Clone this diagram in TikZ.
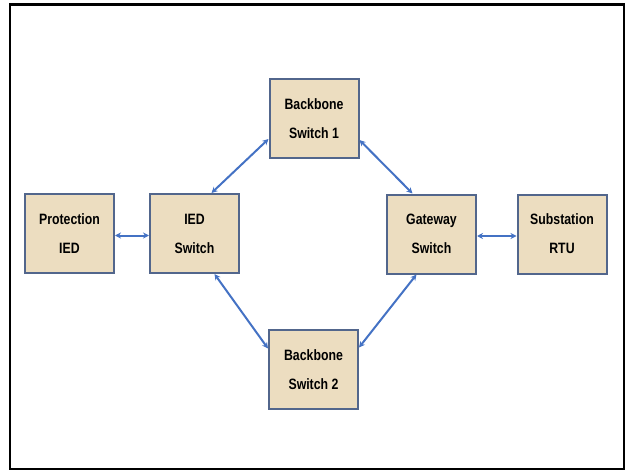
\documentclass[tikz,border=0pt]{standalone}
\usepackage{fontspec}
\newfontfamily\boxfont[FakeStretch=0.82]{Liberation Sans}
\usetikzlibrary{arrows.meta}
\definecolor{parchment}{RGB}{236,221,192}
\definecolor{boxedge}{RGB}{82,102,140}
\definecolor{linkblue}{RGB}{68,114,196}
\tikzset{
    devbox/.style={draw=boxedge, line width=2pt, fill=parchment,
        minimum width=89pt, minimum height=79pt, inner sep=0pt, align=center,
        font=\boxfont\bfseries\fontsize{15}{29}\selectfont},
    link/.style={linkblue, line width=2pt, {Stealth[length=6pt,width=6pt]}-{Stealth[length=6pt,width=6pt]}}
}
\begin{document}
\begin{tikzpicture}[x=1pt,y=1pt]
        \useasboundingbox (0,0) rectangle (626,472);
        \draw[line width=2.8pt] (10,467.5) rectangle (624,3);

        \node[devbox] (prot) at (69.5,238.5) {Protection\\IED};
        \node[devbox] (iedsw) at (194.5,238.5) {IED\\Switch};
        \node[devbox] (bb1) at (314,353) {Backbone\\Switch 1};
        \node[devbox] (gw) at (431.5,238) {Gateway\\Switch};
        \node[devbox] (rtu) at (562,238) {Substation\\RTU};
        \node[devbox] (bb2) at (313.5,102.5) {Backbone\\Switch 2};

        \draw[link] ([yshift=-2pt]prot.east) -- ([yshift=-2pt]iedsw.west);
        \draw[link] ([yshift=-2pt]gw.east) -- ([yshift=-2pt]rtu.west);
        \draw[link] ([xshift=17pt]iedsw.north) -- ([yshift=-20pt]bb1.west);
        \draw[link] ([yshift=-21pt]bb1.east) -- ([xshift=-19pt]gw.north);
        \draw[link] ([xshift=20pt]iedsw.south) -- ([yshift=21pt]bb2.west);
        \draw[link] ([xshift=-15pt]gw.south) -- ([yshift=22pt]bb2.east);
    \end{tikzpicture}
\end{document}
